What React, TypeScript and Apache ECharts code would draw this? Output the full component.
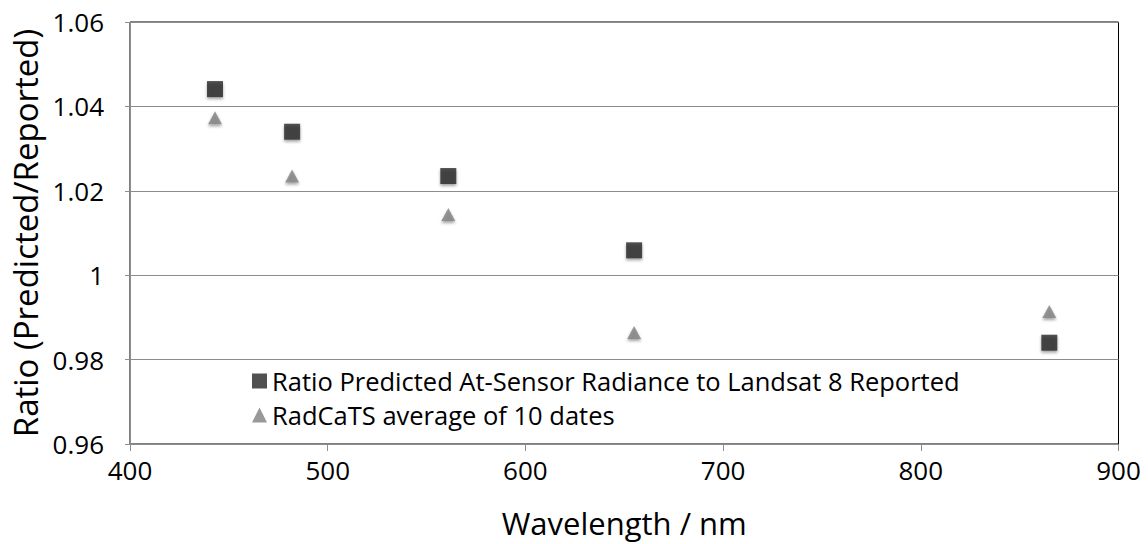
import React, { useEffect, useRef } from "react";
import * as echarts from "echarts";

const wavelengths = [443, 482, 561, 655, 865];
const ratioLandsat = [1.0441, 1.034, 1.0235, 1.0059, 0.984];
const ratioRadCaTS = [1.0373, 1.0235, 1.0144, 0.9864, 0.9914];
const seriesNames = [
  "Ratio Predicted At-Sensor Radiance to Landsat 8 Reported",
  "RadCaTS average of 10 dates",
];

const FONT = "'Open Sans', Lato, sans-serif";

export default function App() {
  const ref = useRef<HTMLDivElement>(null);
  useEffect(() => {
    if (!ref.current) return;
    const chart = echarts.init(ref.current, null, { renderer: "svg" });
    const shadow = {
      shadowBlur: 3,
      shadowColor: "rgba(0,0,0,0.45)",
      shadowOffsetY: 2,
      shadowOffsetX: 0,
    };
    chart.setOption({
      animation: false,
      backgroundColor: "#ffffff",
      grid: {
        left: 130,
        right: 29.5,
        top: 22,
        bottom: 100,
        show: true,
        borderColor: "#000000",
        borderWidth: 1,
        backgroundColor: "transparent",
      },
      legend: {
        orient: "vertical",
        left: 247,
        top: 363,
        itemWidth: 15,
        itemHeight: 15,
        itemGap: 8,
        textStyle: { fontFamily: FONT, fontSize: 25.5, color: "#000", lineHeight: 25 },
        data: [
          { name: seriesNames[0], icon: "rect", itemStyle: { color: "#262626" } },
          { name: seriesNames[1], icon: "triangle", itemStyle: { color: "#808080" } },
        ],
      },
      xAxis: {
        type: "value",
        min: 400,
        max: 900,
        interval: 100,
        name: "Wavelength / nm",
        nameLocation: "middle",
        nameGap: 63,
        nameTextStyle: { fontFamily: FONT, fontSize: 31, color: "#000" },
        axisLine: { show: true, lineStyle: { color: "#8c8c8c", width: 1 } },
        axisTick: { show: true, length: 7, lineStyle: { color: "#8c8c8c" } },
        axisLabel: { fontFamily: FONT, fontSize: 26, color: "#000", margin: 13 },
        splitLine: { show: false },
      },
      yAxis: {
        type: "value",
        min: 0.96,
        max: 1.06,
        interval: 0.02,
        name: "Ratio (Predicted/Reported)",
        nameLocation: "middle",
        nameGap: 80,
        nameTextStyle: { fontFamily: FONT, fontSize: 33, color: "#000" },
        axisLine: { show: true, lineStyle: { color: "#8c8c8c", width: 1 } },
        axisTick: { show: true, length: 5, lineStyle: { color: "#8c8c8c" } },
        axisLabel: { fontFamily: FONT, fontSize: 26, color: "#000", margin: 26 },
        splitLine: { show: true, lineStyle: { color: "#8c8c8c", width: 1 } },
      },
      series: [
        {
          name: seriesNames[0],
          type: "scatter",
          symbol: "rect",
          symbolSize: 16,
          itemStyle: { color: "#262626", ...shadow },
          data: wavelengths.map((w, i) => [w, ratioLandsat[i]]),
          z: 3,
        },
        {
          name: seriesNames[1],
          type: "scatter",
          symbol: "triangle",
          symbolSize: [14, 13],
          itemStyle: { color: "#808080", ...shadow },
          data: wavelengths.map((w, i) => [w, ratioRadCaTS[i]]),
          z: 3,
        },
      ],
    });
    return () => chart.dispose();
  }, []);
  return <div ref={ref} style={{ width: 1148, height: 544, position: "absolute", left: 0, top: 0 }} />;
}
